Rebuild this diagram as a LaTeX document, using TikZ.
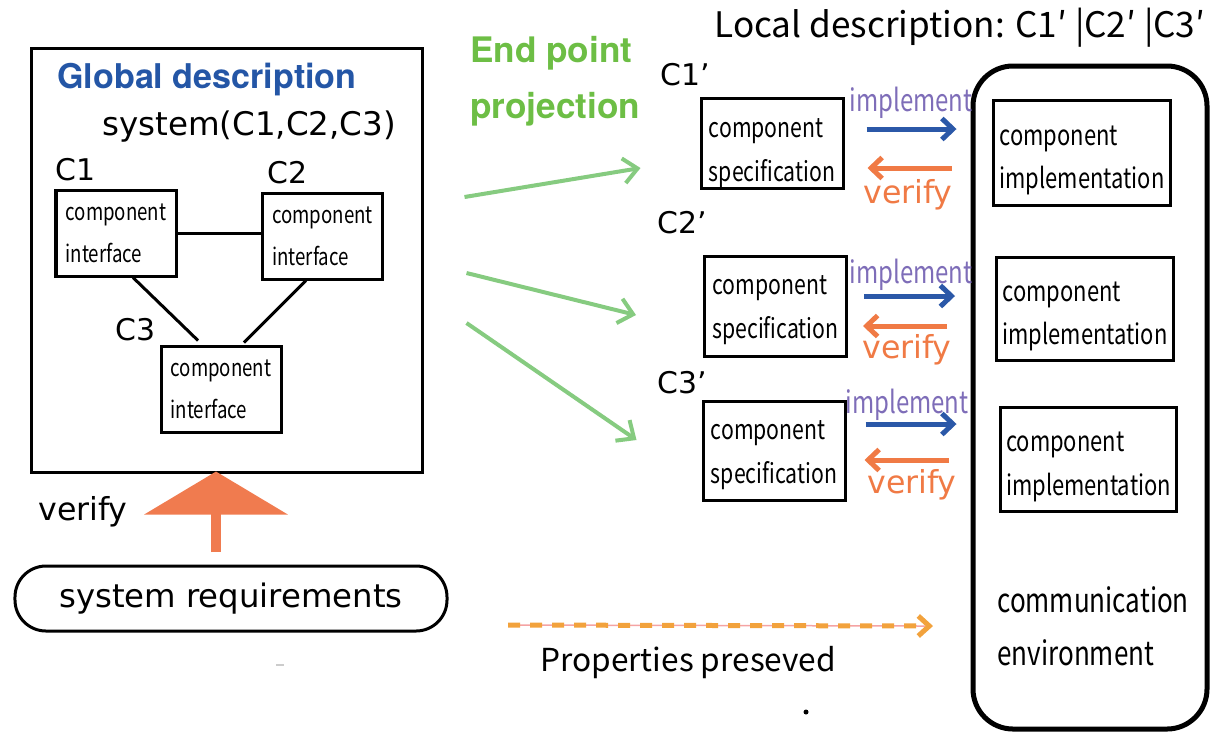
\documentclass[tikz,border=0pt]{standalone}
\usepackage{fontspec}
\setmainfont{Noto Sans CJK JP}
\newfontfamily\narrowfont[FakeStretch=0.78]{Noto Sans CJK JP}
\newfontfamily\widefont{DejaVu Sans}
\newfontfamily\headfont{TeX Gyre Heros}
\usetikzlibrary{arrows.meta,calc}

\definecolor{globblue}{HTML}{2456A6}
\definecolor{projgreen}{HTML}{6DBE45}
\definecolor{arrowgreen}{HTML}{86CB80}
\definecolor{implblue}{HTML}{2B58A8}
\definecolor{implpurple}{HTML}{7E6DB8}
\definecolor{verifyorange}{HTML}{F07A45}
\definecolor{reqorange}{HTML}{F07B4F}
\definecolor{propyellow}{HTML}{F2A23C}
\definecolor{proppink}{HTML}{F5A3A3}

% two text lines, set a little lower than the box centre
\newcommand{\boxlines}[3][4.5pt]{%
    \raisebox{-#1}[\height][\depth]{#2}\\\raisebox{-#1}[\height][\depth]{#3}}

\tikzset{
    ifbox/.style={draw, line width=0.6mm, minimum width=24mm, minimum height=17.2mm,
        align=left, font=\narrowfont\fontsize{13.6}{23.8}\selectfont},
    specbox/.style={draw, line width=0.6mm, minimum width=28.4mm, align=left,
        font=\narrowfont\fontsize{15.5}{25}\selectfont},
    implbox/.style={draw, line width=0.6mm, minimum width=35mm, align=left,
        font=\narrowfont\fontsize{16}{25}\selectfont},
    biglabel/.style={anchor=base west, inner sep=0pt, font=\widefont\fontsize{17}{21}\selectfont},
    headlabel/.style={anchor=base west, inner sep=0pt, font=\headfont\bfseries\fontsize{20}{24}\selectfont},
    narrowlabel/.style={anchor=base west, inner sep=0pt, font=\narrowfont\fontsize{19}{23}\selectfont},
    impllabel/.style={anchor=base, inner sep=0pt, text=implpurple, font=\narrowfont\fontsize{17.5}{20}\selectfont},
    verifylabel/.style={anchor=base, inner sep=0pt, text=verifyorange, font=\widefont\fontsize{18}{22}\selectfont},
    implarrow/.style={implblue, line width=1mm, -{Straight Barb[length=2.2mm,width=4.2mm]}},
    verifyarrow/.style={verifyorange, line width=1mm, -{Straight Barb[length=2.2mm,width=4.2mm]}},
    projarrow/.style={arrowgreen, line width=0.8mm, -{Straight Barb[length=2.8mm,width=5mm]}},
    reqarrow/.style={reqorange, line width=2mm, -{Triangle[length=8.6mm,width=28.4mm]}},
    proparrow/.style={propyellow, line width=1mm, dash pattern=on 2.4mm off 2mm,
        -{Straight Barb[length=2.2mm,width=4mm,line width=1mm]}}
}

\begin{document}
\begin{tikzpicture}[x=0.2mm, y=-0.2mm]

\useasboundingbox (0,0) rectangle (1210,732);

% Global description frame
\node (glob) at (227,260) [draw, line width=0.6mm, minimum width=78mm, minimum height=84.8mm] {};
\node (globtitle) at (57,88) [headlabel, text=globblue, font=\headfont\bfseries\fontsize{19.4}{24}\selectfont] {Global description};
\node (sysname) at (102,135) [biglabel, font=\widefont\fontsize{18.5}{22}\selectfont] {system(C1,C2,C3)};

% component interfaces C1, C2, C3
\node (comp1) at (116,233) [ifbox] {component\\interface};
\node (comp2) at (322.5,236) [ifbox] {component\\interface};
\node (comp3) at (221,389) [ifbox] {component\\interface};
\node (c1) at (55,180) [biglabel] {C1};
\node (c2) at (267,183) [biglabel] {C2};
\node (c3) at (115,340) [biglabel] {C3};

\draw [line width=0.6mm] (comp1.east) -- (comp1.east -| comp2.west);
\draw [line width=0.6mm] ($(comp1.south)+(17,0)$) -- ($(comp3.north)+(-23,-4)$);
\draw [line width=0.6mm] ($(comp2.south)+(-16.5,0)$) -- ($(comp3.north)+(23,-2)$);

% system requirements
\node (sysreq) at (231,598.5) [draw, line width=0.6mm, rounded corners=6.2mm, minimum width=86.4mm,
    minimum height=13mm, font=\widefont\fontsize{18.4}{22}\selectfont] {system requirements};
\node (reqverify) at (38,520) [biglabel, font=\widefont\fontsize{18}{22}\selectfont] {verify};
\draw [reqarrow] ($(sysreq.north)+(-15,-12.5)$) -- ($(glob.south)+(-11,-2)$);

% End point projection
\node (proj1) at (470,62) [headlabel, text=projgreen] {End point};
\node (proj2) at (470,118) [headlabel, text=projgreen] {projection};

% Local description
\node (localtitle) at (714,37) [anchor=base west, inner sep=0pt, font=\fontsize{20}{24}\selectfont] {Local description: C1′ |C2′ |C3′};

% component specifications
\node (spec1) at (772,143) [specbox, minimum height=18mm] {\boxlines[5.5pt]{component}{specification}};
\node (spec2) at (775.5,306) [specbox, minimum height=20mm] {\boxlines[2.5pt]{component}{specification}};
\node (spec3) at (774,450.5) [specbox, minimum height=19.8mm] {\boxlines[2.5pt]{component}{specification}};
\node (c1p) at (660,85) [biglabel] {C1’};
\node (c2p) at (657,233) [biglabel] {C2’};
\node (c3p) at (657,393) [biglabel] {C3’};

\draw [projarrow] ($(glob.east)+(41,-63)$) -- ($(spec1.west)+(-59,25)$);
\draw [projarrow] ($(glob.east)+(43,13)$) -- ($(spec2.west)+(-67,9)$);
\draw [projarrow] ($(glob.east)+(43,63)$) -- ($(spec3.west)+(-65,-10.5)$);

% communication environment
\node (env) at (1090,397.5) [draw, line width=1mm, rounded corners=8mm, minimum width=46.8mm, minimum height=132.6mm] {};
\node (envtext1) at (997,612) [narrowlabel] {communication};
\node (envtext2) at (997,665) [narrowlabel] {environment};

% component implementations
\node (impl1) at (1082,152.5) [implbox, minimum height=21mm] {\boxlines{component}{implementation}};
\node (impl2) at (1085,308.5) [implbox, minimum height=20.6mm] {\boxlines{component}{implementation}};
\node (impl3) at (1088.5,459) [implbox, minimum height=20.8mm] {\boxlines{component}{implementation}};

% implement / verify between spec and impl
\draw [implarrow] ($(spec1.east)+(22,-14)$) -- ++(90,0);
\draw [verifyarrow] ($(spec1.east)+(107,25)$) -- ++(-84,0);
\node (impl1lbl) at (911,111) [impllabel] {implement};
\node (verify1lbl) at (908,203) [verifylabel] {verify};

\draw [implarrow] ($(spec2.east)+(16,-10)$) -- ++(91,0);
\draw [verifyarrow] ($(spec2.east)+(99,20)$) -- ++(-84,0);
\node (impl2lbl) at (911,283) [impllabel] {implement};
\node (verify2lbl) at (907,358) [verifylabel] {verify};

\draw [implarrow] ($(spec3.east)+(19,-26.5)$) -- ++(91,0);
\draw [verifyarrow] ($(spec3.east)+(102,9.5)$) -- ++(-84,0);
\node (impl3lbl) at (907,413) [impllabel] {implement};
\node (verify3lbl) at (912,493) [verifylabel] {verify};

% Properties preserved
\coordinate (propstart) at (508,625);
\coordinate (propend) at (933,626);
\draw [proppink, line width=0.3mm] (propstart) -- ($(propend)+(-8,0)$);
\draw [proparrow] (propstart) -- (propend);
\node (propnote) at (540,671) [anchor=base west, inner sep=0pt, font=\fontsize{18}{22}\selectfont] {Properties preseved};

% stray marks
\draw [gray!40, line width=0.3mm] (276,665) -- (284,665);
\fill (806,712) circle [radius=0.5mm];

\end{tikzpicture}
\end{document}
